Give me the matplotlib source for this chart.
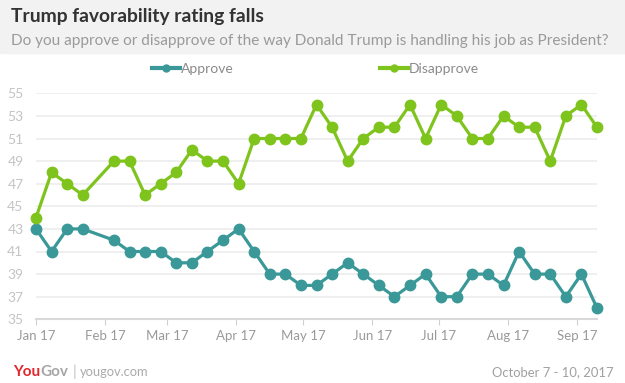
import matplotlib.pyplot as plt
import matplotlib.dates as mdates
from matplotlib.lines import Line2D
from matplotlib.patches import Rectangle
import pandas as pd

plt.rcParams['font.family'] = ['Lato', 'DejaVu Sans']

# weekly poll dates (one week missing at end of January)
dates = pd.to_datetime([
    "2017-01-01", "2017-01-08", "2017-01-15", "2017-01-22",
    "2017-02-05", "2017-02-12", "2017-02-19", "2017-02-26",
    "2017-03-05", "2017-03-12", "2017-03-19", "2017-03-26",
    "2017-04-02", "2017-04-09", "2017-04-16", "2017-04-23", "2017-04-30",
    "2017-05-07", "2017-05-14", "2017-05-21", "2017-05-28",
    "2017-06-04", "2017-06-11", "2017-06-18", "2017-06-25",
    "2017-07-02", "2017-07-09", "2017-07-16", "2017-07-23", "2017-07-30",
    "2017-08-06", "2017-08-13", "2017-08-20", "2017-08-27",
    "2017-09-03", "2017-09-10",
])
approve = [43, 41, 43, 43, 42, 41, 41, 41, 40, 40, 41, 42, 43, 41, 39, 39, 38, 38,
           39, 40, 39, 38, 37, 38, 39, 37, 37, 39, 39, 38, 41, 39, 39, 37, 39, 36]
disapprove = [44, 48, 47, 46, 49, 49, 46, 47, 48, 50, 49, 49, 47, 51, 51, 51, 51, 54,
              52, 49, 51, 52, 52, 54, 51, 54, 53, 51, 51, 53, 52, 52, 49, 53, 54, 52]
y_ticks = [35, 37, 39, 41, 43, 45, 47, 49, 51, 53, 55]

teal = "#3b9898"
green = "#7ec41c"

W, H = 625, 383
fig = plt.figure(figsize=(W / 100, H / 100), dpi=100)
r = fig.canvas.get_renderer()


def fit(t, width):
    # shrink/grow a text so it spans the given pixel width
    w = t.get_window_extent(r).width
    t.set_fontsize(t.get_fontsize() * width / w)
    return t


# grey header band
fig.patches.append(Rectangle((0, 1 - 53 / H), 1, 53 / H, transform=fig.transFigure,
                             color="#f2f2f2", zorder=0))
title = fig.text(11 / W, 1 - 22 / H, "Trump favorability rating falls", fontsize=14,
                 fontweight="bold", color="#333333", va="baseline")
fit(title, 256)
sub = fig.text(11 / W, 1 - 45 / H,
               "Do you approve or disapprove of the way Donald Trump is handling his job as President?",
               fontsize=12, color="#9a9a9a", va="baseline")
fit(sub, 599)

ax = fig.add_axes([36 / W, 1 - 319.3 / H, (597 - 36) / W, (319.3 - 93.3) / H])
ax.plot(dates, approve, color=teal, lw=2.3, marker="o", ms=7.5, clip_on=False, zorder=3)
ax.plot(dates, disapprove, color=green, lw=2.3, marker="o", ms=7.5, clip_on=False, zorder=3)

ax.set_xlim(dates[0], dates[-1])
ax.set_ylim(35, 55)
ax.set_yticks(y_ticks)
ax.grid(axis="y", color="#eeeeee", lw=1.3)
ax.set_axisbelow(True)
for s in ["top", "right", "left"]:
    ax.spines[s].set_visible(False)
ax.spines["bottom"].set_color("#d9d9d9")
ax.spines["bottom"].set_linewidth(1.5)

ax.xaxis.set_major_locator(mdates.MonthLocator())
ax.xaxis.set_major_formatter(mdates.DateFormatter("%b %y"))
ax.tick_params(axis="x", length=4, color="#d0d0d0", labelcolor="#9a9a9a",
               labelsize=9.5, pad=4)
ax.tick_params(axis="y", length=0, labelcolor="#c4c4c4", labelsize=10, pad=9)

handles = [Line2D([], [], color=teal, lw=3, marker="o", ms=5),
           Line2D([], [], color=green, lw=3, marker="o", ms=5)]
fig.legend(handles, ["Approve", "Disapprove"], loc="center",
           bbox_to_anchor=(0.505, 1 - 69 / H), ncol=2, frameon=False,
           fontsize=10, labelcolor="#8a8a8a", handlelength=2.0,
           handletextpad=0.1, columnspacing=10.5)

# footer: logo, divider, site, date
t1 = fig.text(13 / W, 11 / H, "You", fontsize=11, fontweight="bold", color="#e3262b",
              va="center")
x = t1.get_window_extent(r).x1
t2 = fig.text(x / W, 11 / H, "Gov", fontsize=11, fontweight="bold", color="#a6a6a6",
              va="center")
x = t2.get_window_extent(r).x1 + 5
bar = fig.text(x / W, 11 / H, "|", fontsize=11, color="#c0c0c0", va="center")
x = bar.get_window_extent(r).x1 + 3
site = fig.text(x / W, 11 / H, "yougov.com", fontsize=10, color="#aaaaaa", va="center")
fit(site, 69)
when = fig.text(614 / W, 11 / H, "October 7 - 10, 2017", fontsize=10, color="#a0a0a0",
                va="center", ha="right")
fit(when, 121)

fig.savefig("out.png", dpi=100)
